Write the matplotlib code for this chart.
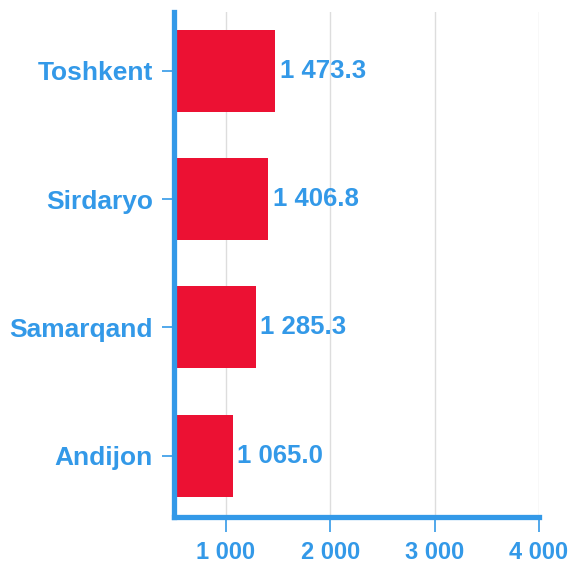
import matplotlib
matplotlib.use('Agg')
import numpy as np
from matplotlib import pyplot as plt

regions = ['Andijon', 'Samarqand', 'Sirdaryo', 'Toshkent']
values = [1065.0, 1285.3, 1406.8, 1473.3]
xticks = [1000, 2000, 3000, 4000]
xtick_labels = ['1 000', '2 000', '3 000', '4 000']

blue = '#3399e8'
red = '#ec1133'

plt.rcParams['font.family'] = ['Liberation Sans', 'DejaVu Sans']

fig = plt.figure(figsize=(5.68, 5.64), dpi=100)
ax = fig.add_axes([0.306, 0.083, 0.643, 0.896])

y = np.arange(len(regions))
bars = ax.barh(y, values, height=0.64, color=red, zorder=3)

for b, v in zip(bars, values):
    txt = '{:,.1f}'.format(v).replace(',', ' ')
    ax.text(b.get_width() + 40, b.get_y() + b.get_height() / 2, txt,
            va='center', ha='left', color=blue, fontsize=18.5,
            fontweight='bold', zorder=4)

ax.set_xlim(500, 4000)
ax.set_ylim(-0.48, 3.46)
ax.set_yticks(y)
ax.set_yticklabels(regions)
ax.set_xticks(xticks)
ax.set_xticklabels(xtick_labels)

ax.grid(axis='x', color='#dddddd', linewidth=1.0, zorder=0)
ax.set_axisbelow(True)

for s in ['top', 'right']:
    ax.spines[s].set_visible(False)
for s in ['left', 'bottom']:
    ax.spines[s].set_color(blue)
    ax.spines[s].set_linewidth(3.8)
    ax.spines[s].set_capstyle('projecting')
    ax.spines[s].set_zorder(5)

ax.tick_params(axis='x', colors=blue, length=11, width=1.2, labelsize=17, pad=6)
ax.tick_params(axis='y', colors=blue, length=9, width=1.2, labelsize=19, pad=6)
for lbl in ax.get_xticklabels() + ax.get_yticklabels():
    lbl.set_fontweight('bold')

fig.savefig('out.png', dpi=100, facecolor='white')
